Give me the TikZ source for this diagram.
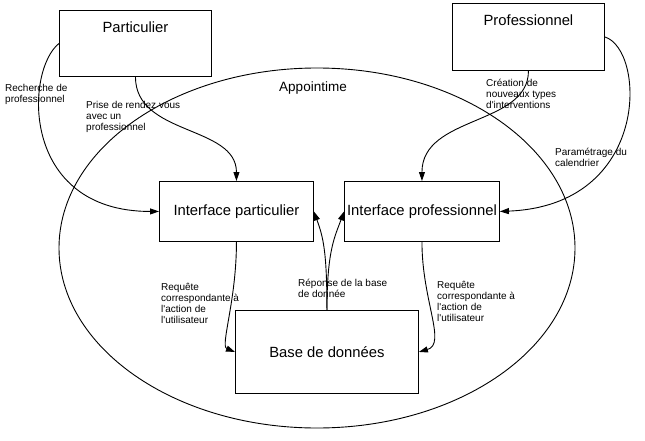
\documentclass[tikz,border=0pt]{standalone}
\usepackage{fontspec}
\setmainfont{Liberation Sans}[Ligatures=TeXOff]
\usetikzlibrary{shapes.geometric,arrows.meta,positioning}
\tikzstyle{boite} = [draw,rectangle,anchor=north west,inner sep=0,line width=.9pt,font=\fontsize{14.8}{17}\selectfont]
\tikzstyle{titre} = [inner sep=0,font=\fontsize{14.8}{17}\selectfont]
\tikzstyle{legende} = [anchor=north west,align=left,inner sep=0,font=\fontsize{10}{11}\selectfont]
\tikzstyle{fleche} = [-{Triangle[length=9pt,width=6pt]},line width=.9pt]
\def \tdec {11.5pt}

\begin{document}
\begin{tikzpicture}[x=1pt,y=-1pt]
      \useasboundingbox (0,0) rectangle (645,441);
      \node[draw,ellipse,inner sep=0,minimum width=516,minimum height=360,line width=.9pt] (app) at (317,248) {};
      \node[titre,font=\fontsize{13.5}{16}\selectfont] (tapp) at (313,88) {Appointime};
      % acteurs
      \node[boite,minimum width=152,minimum height=66] (part) at (59,10) {};
      \node[titre,below=\tdec of part.north] (tpart) {Particulier};
      \node[boite,minimum width=152,minimum height=67] (pro) at (452,3) {};
      \node[titre,below=\tdec of pro.north] (tpro) {Professionnel};
      % interfaces et base
      \node[boite,minimum width=154,minimum height=60] (ipart) at (159,181) {Interface particulier};
      \node[boite,minimum width=155,minimum height=60] (ipro) at (344,181) {Interface professionnel};
      \node[boite,minimum width=183,minimum height=83] (bdd) at (235,310) {Base de donn\'ees};
      % fleches
      \draw[fleche] (part.west) .. controls +(-34,27) and +(-139,0) .. (ipart.west);
      \draw[fleche] (part.south) .. controls +(0,59) and +(0,-56) .. (ipart.north);
      \draw[fleche] (pro.south) .. controls +(0,55) and +(0,-66) .. (ipro.north);
      \draw[fleche] (pro.east) .. controls +(41,13) and +(151,-6) .. (ipro.east);
      \draw[fleche] (ipart.south) .. controls +(0,59) and +(-15,-6) .. (bdd.west);
      \draw[fleche] (ipro.south) .. controls +(0,59) and +(28,-8) .. (bdd.east);
      \draw[fleche] (bdd.north) .. controls +(0,-60) and +(9,25) .. (ipart.east);
      \draw[fleche] (bdd.north) .. controls +(0,-60) and +(-9,25) .. (ipro.west);
      % legendes
      \node[legende] (lrech) at (5,84.5) {Recherche de\\professionnel};
      \node[legende] (lprise) at (86,101.5) {Prise de rendez vous\\avec un\\professionnel};
      \node[legende] (lcrea) at (486,78.5) {Cr\'eation de\\nouveaux types\\d'interventions};
      \node[legende] (lparam) at (555,147.5) {Param\'etrage du\\calendrier};
      \node[legende] (lreq) at (161,283.5) {Requ\^ete\\correspondante \`a\\l'action de\\l'utilisateur};
      \node[legende] (lreqb) at (437,281.5) {Requ\^ete\\correspondante \`a\\l'action de\\l'utilisateur};
      \node[legende] (lrep) at (298,278.5) {R\'eponse de la base\\de donn\'ee};
    \end{tikzpicture}
\end{document}
